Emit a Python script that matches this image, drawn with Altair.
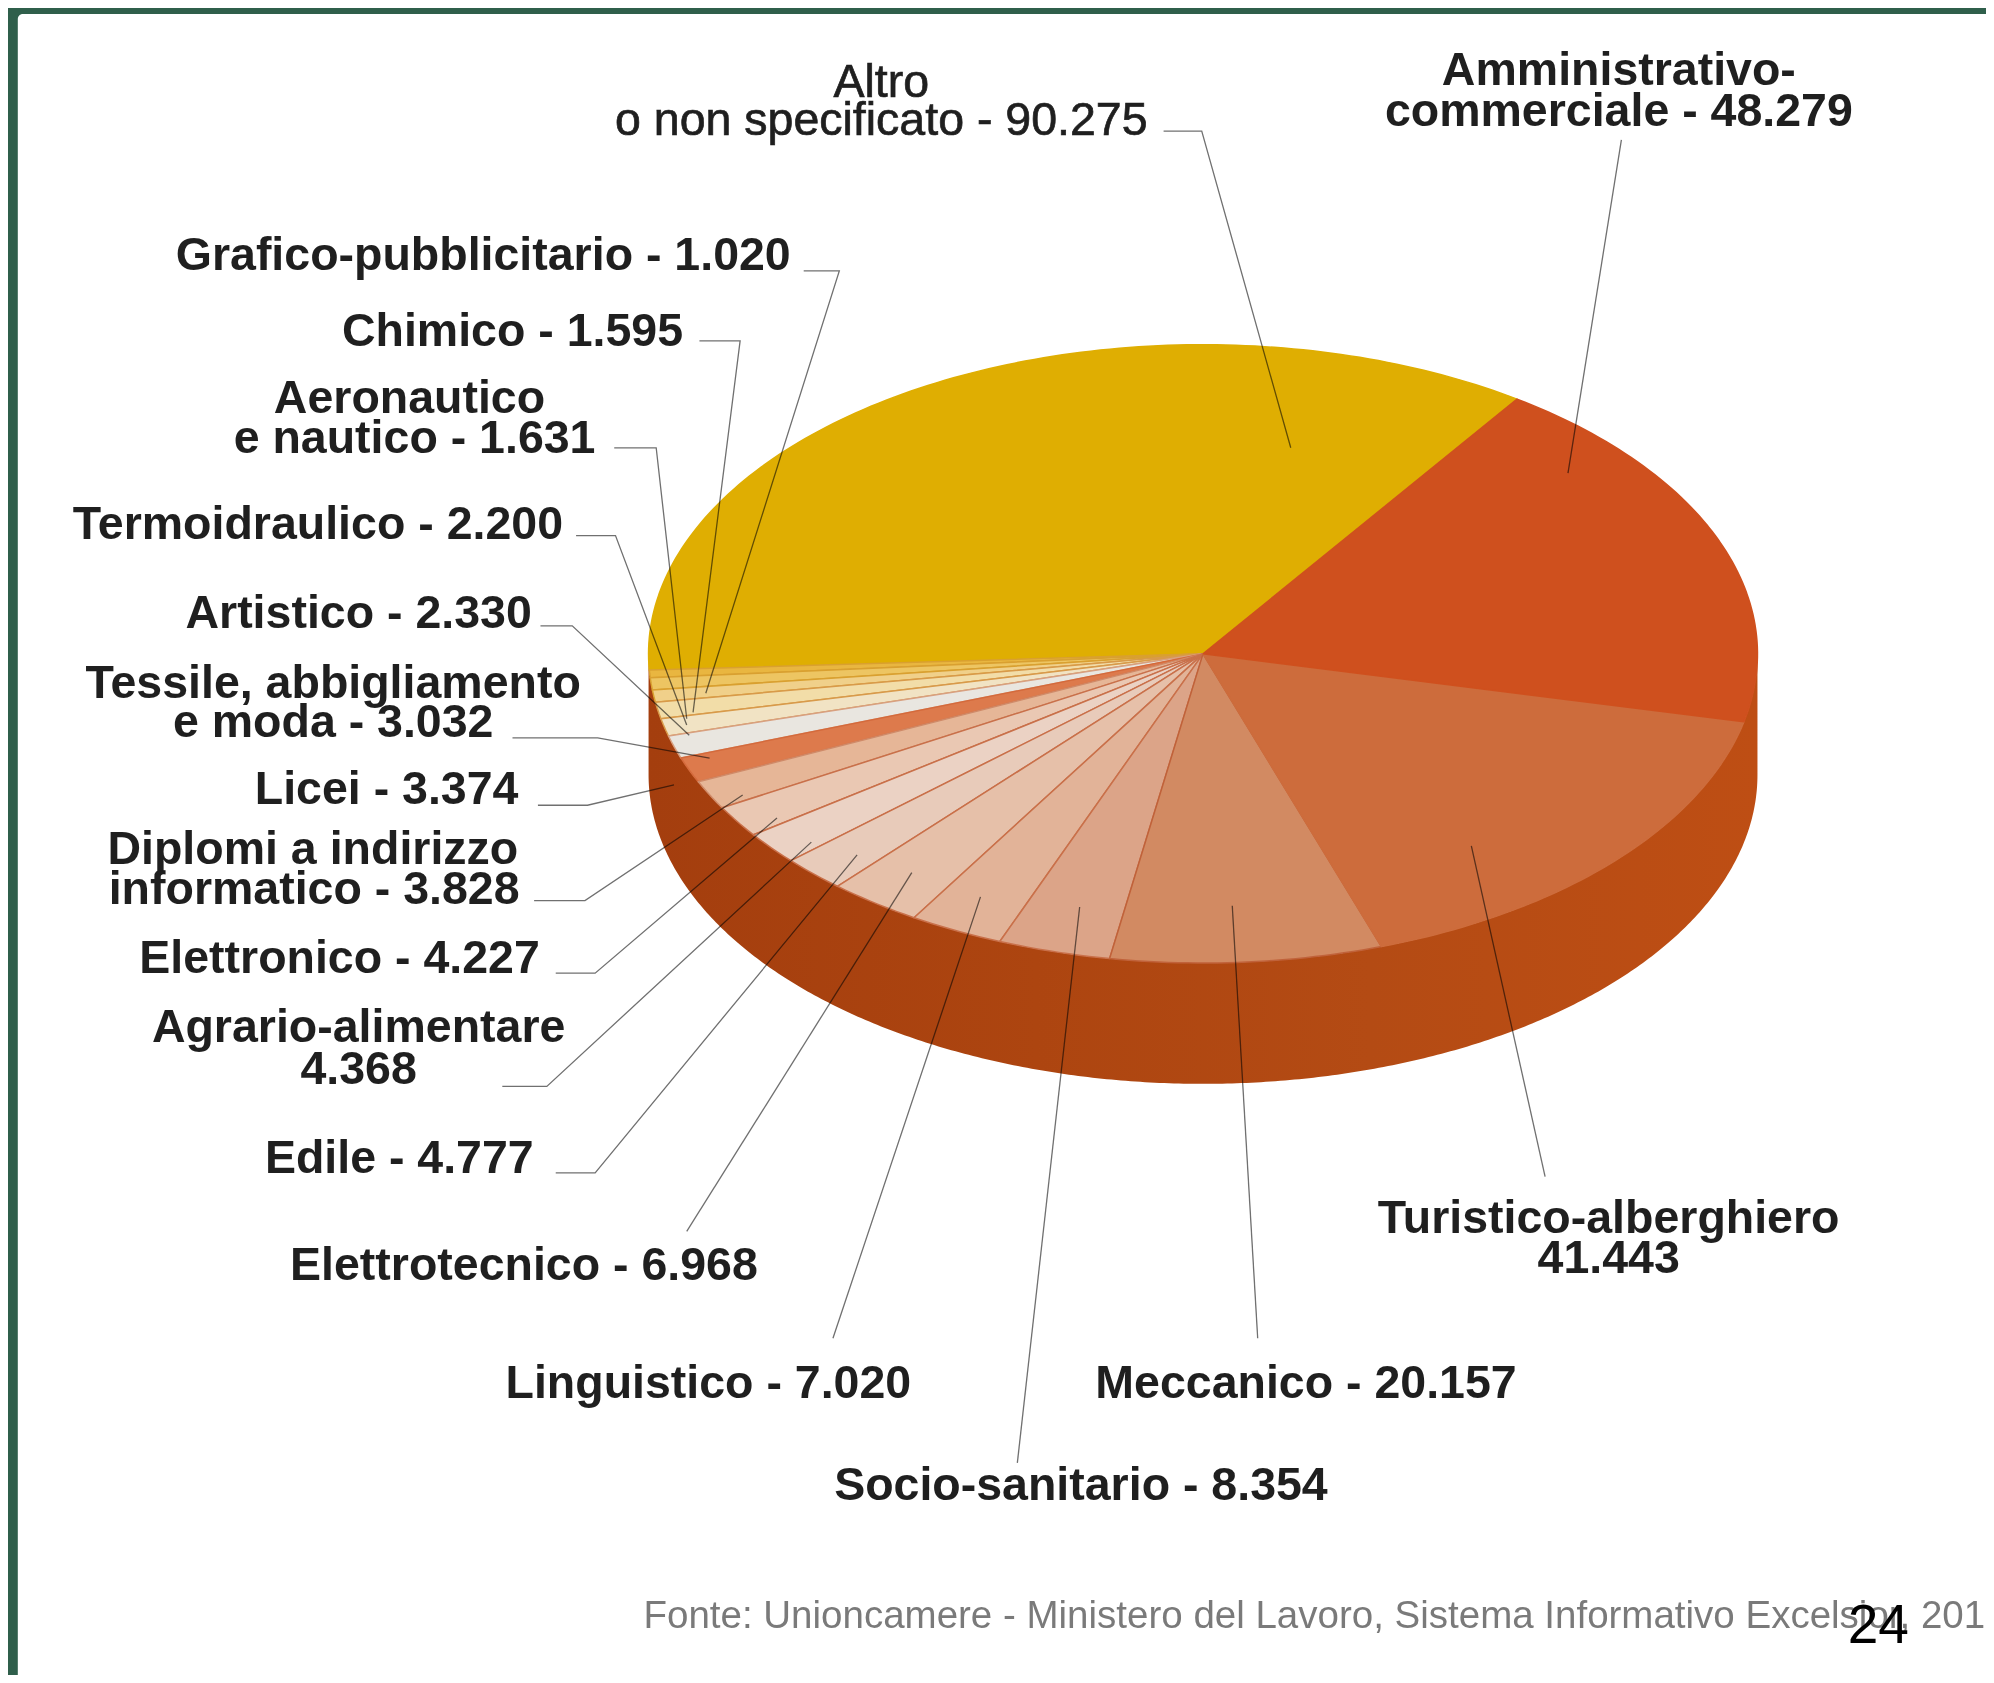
import math
import altair as alt
import pandas as pd

# ---------- data ----------
categories = ["Altro o non specificato", "Grafico-pubblicitario", "Chimico", "Aeronautico e nautico",
              "Termoidraulico", "Artistico", "Tessile, abbigliamento e moda", "Licei",
              "Diplomi a indirizzo informatico", "Elettronico", "Agrario-alimentare", "Edile",
              "Elettrotecnico", "Linguistico", "Socio-sanitario", "Meccanico",
              "Turistico-alberghiero", "Amministrativo-commerciale"]
values = [90275, 1020, 1595, 1631, 2200, 2330, 3032, 3374, 3828, 4227, 4368, 4777,
          6968, 7020, 8354, 20157, 41443, 48279]

# ---------- styling ----------
fills = ["#DFAE02", "#E9B640", "#EDC562", "#F0D08A", "#F2DDA8", "#F1E3C4", "#E9E6E0", "#DD7A4C",
         "#E6B697", "#EAC8B3", "#EBD2C4", "#E8CBBA", "#E6C0A9", "#E2B398", "#DCA488", "#D28A62",
         "#CD6C3C", "#CF501E"]
strokes = ["#DFAE02", "#D9A030", "#D9A030", "#D9A030", "#D89A4A", "#D89A4A", "#D8A080", "#D46A3C",
           "#D08A68", "#C9704A", "#C9704A", "#C9704A", "#C9704A", "#C9704A", "#C9704A", "#C0623A",
           "#CD6C3C", "#CF501E"]

KX, KY = 1994 / 1568, 1683 / 1323          # picture units → pixels
CX, CY, RX, RY, DEPTH, START = 946, 514, 436, 243, 95, 55.5
FS = 46.5

x_scale = alt.Scale(domain=[8 / KX, 1986 / KX], nice=False, zero=False)
y_scale = alt.Scale(domain=[1675 / KY, 8 / KY], nice=False, zero=False)
X = alt.X("x:Q", scale=x_scale, axis=None)
Y = alt.Y("y:Q", scale=y_scale, axis=None)

def ell(a):
    r = math.radians(a)
    return CX + RX * math.cos(r), CY - RY * math.sin(r)

# ---------- wedges computed from the values ----------
total = sum(values)
rows, a0 = [], START
for c, v in zip(categories, values):
    span = 360 * v / total
    n = max(2, int(span))
    pts = [(CX, CY)] + [ell(a0 + span * i / n) for i in range(n + 1)] + [(CX, CY)]
    rows += [{"cat": c, "i": i, "x": p[0], "y": p[1]} for i, p in enumerate(pts)]
    a0 += span
wedges = pd.DataFrame(rows)

wall = pd.DataFrame([{"x": ell(a)[0], "y": ell(a)[1], "y2": ell(a)[1] + DEPTH}
                     for a in [180 + i * 0.5 for i in range(361)]])

# ---------- page furniture ----------
panel = pd.DataFrame([{"x": 14, "x2": 1568, "y": 11, "y2": 1323}])
panel_l = alt.Chart(panel).mark_rect(fill="#FFFFFF", cornerRadius=5).encode(
    x=X, x2="x2:Q", y=Y, y2="y2:Q")

wall_l = alt.Chart(wall).mark_area(
    color=alt.Gradient(gradient="linear", x1=0, x2=1, y1=0, y2=0,
                       stops=[alt.GradientStop(color="#A43E0E", offset=0),
                              alt.GradientStop(color="#AD4510", offset=0.35),
                              alt.GradientStop(color="#B44B14", offset=0.65),
                              alt.GradientStop(color="#BE4E14", offset=1)])
).encode(x=X, y=Y, y2="y2:Q")

wedge_l = alt.Chart(wedges).mark_line(strokeWidth=1.5, strokeJoin="round").encode(
    x=X, y=Y, order="i:Q", detail="cat:N",
    fill=alt.Fill("cat:N", scale=alt.Scale(domain=categories, range=fills), legend=None),
    stroke=alt.Stroke("cat:N", scale=alt.Scale(domain=categories, range=strokes), legend=None))

# ---------- leader lines ----------
leaders = [
    [(915, 103), (945, 103), (1015, 352)],
    [(1275, 110), (1233, 372)],
    [(632, 213), (660, 213), (555, 545)],
    [(550, 268), (582, 268), (545, 560)],
    [(483, 352), (516, 352), (540, 565)],
    [(453, 421), (484, 421), (540, 570)],
    [(425, 492), (450, 492), (542, 578)],
    [(403, 580), (470, 580), (558, 596)],
    [(423, 633), (462, 633), (530, 617)],
    [(420, 708), (460, 708), (584, 625)],
    [(437, 765), (468, 765), (611, 643)],
    [(395, 854), (430, 854), (638, 662)],
    [(437, 922), (468, 922), (674, 672)],
    [(540, 968), (717, 686)],
    [(655, 1052), (771, 705)],
    [(800, 1150), (849, 713)],
    [(989, 1052), (969, 712)],
    [(1215, 925), (1157, 665)],
]
line_df = pd.DataFrame([{"id": k, "i": i, "x": p[0], "y": p[1]}
                        for k, pts in enumerate(leaders) for i, p in enumerate(pts)])
line_l = alt.Chart(line_df).mark_line(color="#707070", strokeWidth=1.3, blend="multiply").encode(
    x=X, y=Y, order="i:Q", detail="id:N")

# ---------- labels ----------
label_text = ["Altro", "o non specificato - 90.275", "Amministrativo-", "commerciale - 48.279",
              "Grafico-pubblicitario - 1.020", "Chimico - 1.595", "Aeronautico", "e nautico - 1.631",
              "Termoidraulico - 2.200", "Artistico - 2.330", "Tessile, abbigliamento", "e moda - 3.032",
              "Licei - 3.374", "Diplomi a indirizzo", "informatico - 3.828", "Elettronico - 4.227",
              "Agrario-alimentare", "4.368", "Edile - 4.777", "Elettrotecnico - 6.968",
              "Linguistico - 7.020", "Meccanico - 20.157", "Socio-sanitario - 8.354",
              "Turistico-alberghiero", "41.443"]
label_x = [693, 693, 1273, 1273, 380, 403, 322, 326, 250, 282, 262, 262, 304, 246, 247, 267,
           282, 282, 314, 412, 557, 1027, 850, 1265, 1265]
label_y = [65, 95, 56, 88, 201, 261, 314, 345, 413, 483, 538, 568, 621, 668, 700, 754,
           808, 841, 911, 995, 1088, 1088, 1168, 958, 990]
labels = pd.DataFrame({"t": label_text, "x": label_x, "y": label_y})
regular = labels[labels.index < 2]
bold = labels[labels.index >= 2]

def text_layer(df, **kw):
    return alt.Chart(df).mark_text(font="Liberation Sans", align="center", baseline="middle",
                                   color="#1F1F1F", **kw).encode(x=X, y=Y, text="t:N")

reg_l = text_layer(regular, fontSize=FS, stroke="#1F1F1F", strokeWidth=0.7)
bold_l = text_layer(bold, fontSize=FS, fontWeight="bold")

source = pd.DataFrame({"t": ["Fonte: Unioncamere - Ministero del Lavoro, Sistema Informativo Excelsior, 201"],
                       "x": [506], "y": [1270]})
src_l = alt.Chart(source).mark_text(font="Liberation Sans", align="left", baseline="middle",
                                    fontSize=38.5, color="#7A7A7A").encode(x=X, y=Y, text="t:N")
page = pd.DataFrame({"t": ["24"], "x": [1477], "y": [1278]})
page_l = alt.Chart(page).mark_text(font="Liberation Sans", align="center", baseline="middle",
                                   fontSize=55, color="#000000").encode(x=X, y=Y, text="t:N")

chart = alt.layer(panel_l, wall_l, wedge_l, line_l, reg_l, bold_l, src_l, page_l).properties(
    width=1978, height=1667, padding=0, background="#2F5F4B",
    autosize=alt.AutoSizeParams(type="none")
).configure_view(stroke=None)

chart.save("out.html", embed_options={"renderer": "svg", "actions": False})
